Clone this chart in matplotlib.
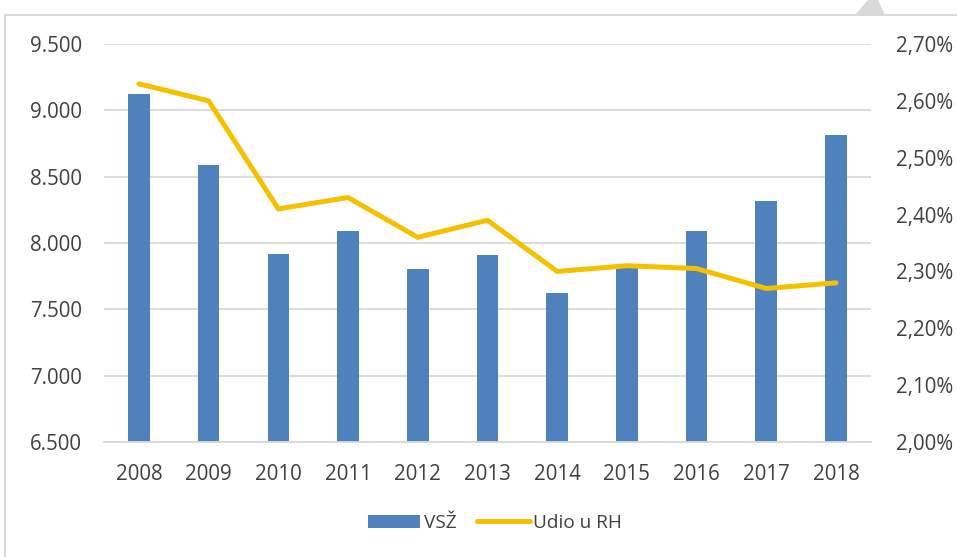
import matplotlib.pyplot as plt
from matplotlib.patches import Rectangle, Polygon
from matplotlib.ticker import FuncFormatter

plt.rcParams["font.family"] = ["Open Sans", "DejaVu Sans"]

years = ["2008", "2009", "2010", "2011", "2012", "2013", "2014", "2015", "2016", "2017", "2018"]
vsz = [9120, 8585, 7920, 8090, 7805, 7910, 7620, 7830, 8090, 8320, 8815]
udio = [2.63, 2.60, 2.41, 2.43, 2.36, 2.39, 2.30, 2.31, 2.305, 2.27, 2.28]

bar_color = "#4F81BD"
line_color = "#F5C000"
text_color = "#404040"
grid_color = "#D9D9D9"

fig = plt.figure(figsize=(9.57, 5.57), dpi=100)
ax = fig.add_axes([0.1087, 0.2065, 0.8013, 0.7145])
ax2 = ax.twinx()

x = range(len(years))
ax.bar(x, vsz, width=0.31, color=bar_color, label="VSŽ", zorder=2)
ax2.plot(x, udio, color=line_color, linewidth=3.6, solid_capstyle="round",
         label="Udio u RH", zorder=3)

ax.set_xlim(-0.5, len(years) - 0.5)
ax.set_ylim(6500, 9500)
ax.set_yticks(range(6500, 9501, 500))
ax.yaxis.set_major_formatter(FuncFormatter(lambda v, p: f"{v:,.0f}".replace(",", ".")))
ax2.set_ylim(2.0, 2.7)
ax2.set_yticks([2.0, 2.1, 2.2, 2.3, 2.4, 2.5, 2.6, 2.7])
ax2.yaxis.set_major_formatter(FuncFormatter(lambda v, p: f"{v:.2f}%".replace(".", ",")))

ax.set_xticks(list(x))
ax.set_xticklabels(years)
ax.grid(axis="y", color=grid_color, linewidth=1.3, zorder=0)
ax.set_axisbelow(True)

for a in (ax, ax2):
    for s in a.spines.values():
        s.set_visible(False)
    a.tick_params(length=0, labelsize=14.8, colors=text_color)
ax.spines["bottom"].set_visible(True)
ax.spines["bottom"].set_color(grid_color)
ax.spines["bottom"].set_linewidth(1.3)
ax.tick_params(axis="y", pad=16)
ax.tick_params(axis="x", pad=16)
ax2.tick_params(axis="y", pad=18)
ax.set_zorder(ax2.get_zorder() - 1)
ax2.patch.set_visible(False)

# chart frame from the screenshot
fig.patches.append(Rectangle((5 / 957, -0.1), 1.2, 1 - 15 / 557 + 0.1, transform=fig.transFigure,
                             fill=False, edgecolor="#D9D9D9", linewidth=1.5))
fig.patches.append(Polygon([(855 / 957, 1 - 15 / 557), (868 / 957, 1.0), (878 / 957, 1.0),
                            (885 / 957, 1 - 15 / 557)], closed=True, transform=fig.transFigure,
                           facecolor="#D9D9D9", edgecolor="none"))

h1, l1 = ax.get_legend_handles_labels()
h2, l2 = ax2.get_legend_handles_labels()
fig.legend(h1 + h2, l1 + l2, loc="center", bbox_to_anchor=(495 / 957, 1 - 523 / 557), ncol=2,
           frameon=False, fontsize=13.7, labelcolor=text_color, handlelength=2.75,
           handletextpad=0.2, columnspacing=1.1)

fig.savefig("out.png", dpi=100)
